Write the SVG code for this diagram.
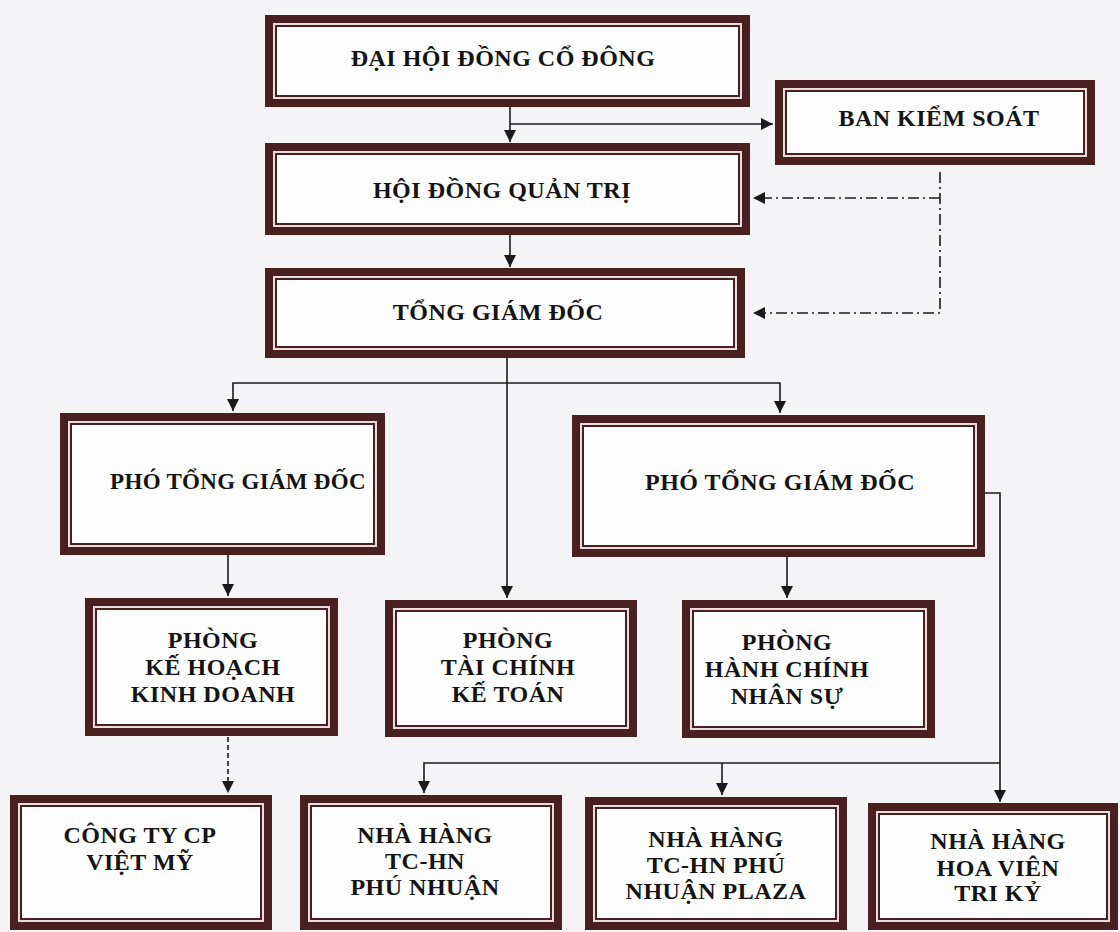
<svg xmlns="http://www.w3.org/2000/svg" width="1120" height="932" viewBox="0 0 1120 932">
<defs>
<marker id="arr" markerWidth="12" markerHeight="12" refX="10" refY="5" orient="auto" markerUnits="userSpaceOnUse" viewBox="0 0 10 10">
<path d="M0,0 L10,5 L0,10 Z" fill="#1a1a1a"/>
</marker>
<style>
.band{fill:#eadcdc;stroke:#4a1f1f;stroke-width:8}
.line{fill:#fdfdfd;stroke:#4a1f1f;stroke-width:2}
.t{font-family:"Liberation Serif","DejaVu Serif",serif;font-weight:bold;font-size:24px;letter-spacing:0.5px;fill:#141414;text-anchor:middle}
.s{font-size:23px;letter-spacing:0.3px}
.c{fill:none;stroke:#1a1a1a;stroke-width:1.6}
.dd{stroke-dasharray:11 4 2 4}
.ds{stroke-dasharray:5 3}
</style>
</defs>
<rect x="0" y="0" width="1120" height="932" fill="#f4f4f6"/>

<g id="connectors">
<path class="c" d="M510 107 V142" marker-end="url(#arr)"/>
<path class="c" d="M510 124 H773" marker-end="url(#arr)"/>
<path class="c dd" d="M940 172 V313 H753" marker-end="url(#arr)"/>
<path class="c dd" d="M940 198 H753" marker-end="url(#arr)"/>
<path class="c" d="M510 235 V267" marker-end="url(#arr)"/>
<path class="c" d="M507 357 V598" marker-end="url(#arr)"/>
<path class="c" d="M507 383 H233 V411" marker-end="url(#arr)"/>
<path class="c" d="M507 383 H780 V413" marker-end="url(#arr)"/>
<path class="c" d="M985 493 H1000 V802" marker-end="url(#arr)"/>
<path class="c" d="M228 555 V596" marker-end="url(#arr)"/>
<path class="c" d="M787 557 V598" marker-end="url(#arr)"/>
<path class="c ds" d="M228 737 V793" marker-end="url(#arr)"/>
<path class="c" d="M1000 763 H424 V793" marker-end="url(#arr)"/>
<path class="c" d="M722 763 V795" marker-end="url(#arr)"/>
</g>

<g id="dai-hoi-dong-co-dong">
<rect class="band" x="269" y="19" width="477" height="84"/>
<rect class="line" x="276" y="26" width="463" height="70"/>
<text class="t" x="503" y="66">ĐẠI HỘI ĐỒNG CỔ ĐÔNG</text>
</g>

<g id="ban-kiem-soat">
<rect class="band" x="779" y="84" width="312" height="77"/>
<rect class="line" x="786" y="91" width="298" height="63"/>
<text class="t" x="939" y="126">BAN KIỂM SOÁT</text>
</g>

<g id="hoi-dong-quan-tri">
<rect class="band" x="269" y="147" width="477" height="84"/>
<rect class="line" x="276" y="154" width="463" height="70"/>
<text class="t" x="502" y="198">HỘI ĐỒNG QUẢN TRỊ</text>
</g>

<g id="tong-giam-doc">
<rect class="band" x="269" y="272" width="472" height="82"/>
<rect class="line" x="276" y="279" width="458" height="68"/>
<text class="t" x="498" y="320">TỔNG GIÁM ĐỐC</text>
</g>

<g id="pho-tong-giam-doc-1">
<rect class="band" x="64" y="417" width="317" height="134"/>
<rect class="line" x="71" y="424" width="303" height="120"/>
<text class="t s" x="238" y="489">PHÓ TỔNG GIÁM ĐỐC</text>
</g>

<g id="pho-tong-giam-doc-2">
<rect class="band" x="576" y="419" width="405" height="134"/>
<rect class="line" x="583" y="426" width="391" height="120"/>
<text class="t" x="780" y="490">PHÓ TỔNG GIÁM ĐỐC</text>
</g>

<g id="phong-ke-hoach-kinh-doanh">
<rect class="band" x="89" y="602" width="245" height="130"/>
<rect class="line" x="96" y="609" width="231" height="116"/>
<text class="t" x="213" y="648">PHÒNG</text>
<text class="t" x="213" y="675">KẾ HOẠCH</text>
<text class="t" x="213" y="702">KINH DOANH</text>
</g>

<g id="phong-tai-chinh-ke-toan">
<rect class="band" x="389" y="604" width="244" height="129"/>
<rect class="line" x="396" y="611" width="230" height="115"/>
<text class="t" x="508" y="648">PHÒNG</text>
<text class="t" x="508" y="675">TÀI CHÍNH</text>
<text class="t" x="508" y="702">KẾ TOÁN</text>
</g>

<g id="phong-hanh-chinh-nhan-su">
<rect class="band" x="686" y="604" width="245" height="130"/>
<rect class="line" x="693" y="611" width="231" height="116"/>
<text class="t" x="787" y="650">PHÒNG</text>
<text class="t" x="787" y="677">HÀNH CHÍNH</text>
<text class="t" x="787" y="704">NHÂN SỰ</text>
</g>

<g id="cong-ty-cp-viet-my">
<rect class="band" x="14" y="799" width="254" height="127"/>
<rect class="line" x="21" y="806" width="240" height="113"/>
<text class="t" x="140" y="843">CÔNG TY CP</text>
<text class="t" x="140" y="870">VIỆT MỸ</text>
</g>

<g id="nha-hang-phu-nhuan">
<rect class="band" x="304" y="799" width="254" height="127"/>
<rect class="line" x="311" y="806" width="240" height="113"/>
<text class="t" x="425" y="843">NHÀ HÀNG</text>
<text class="t" x="425" y="869">TC-HN</text>
<text class="t" x="425" y="895">PHÚ NHUẬN</text>
</g>

<g id="nha-hang-phu-nhuan-plaza">
<rect class="band" x="589" y="801" width="254" height="125"/>
<rect class="line" x="596" y="808" width="240" height="111"/>
<text class="t" x="716" y="847">NHÀ HÀNG</text>
<text class="t" x="716" y="873">TC-HN PHÚ</text>
<text class="t" x="716" y="899">NHUẬN PLAZA</text>
</g>

<g id="nha-hang-hoa-vien-tri-ky">
<rect class="band" x="872" y="807" width="242" height="119"/>
<rect class="line" x="879" y="814" width="228" height="105"/>
<text class="t" x="998" y="849">NHÀ HÀNG</text>
<text class="t" x="998" y="876">HOA VIÊN</text>
<text class="t" x="998" y="901">TRI KỶ</text>
</g>
</svg>
